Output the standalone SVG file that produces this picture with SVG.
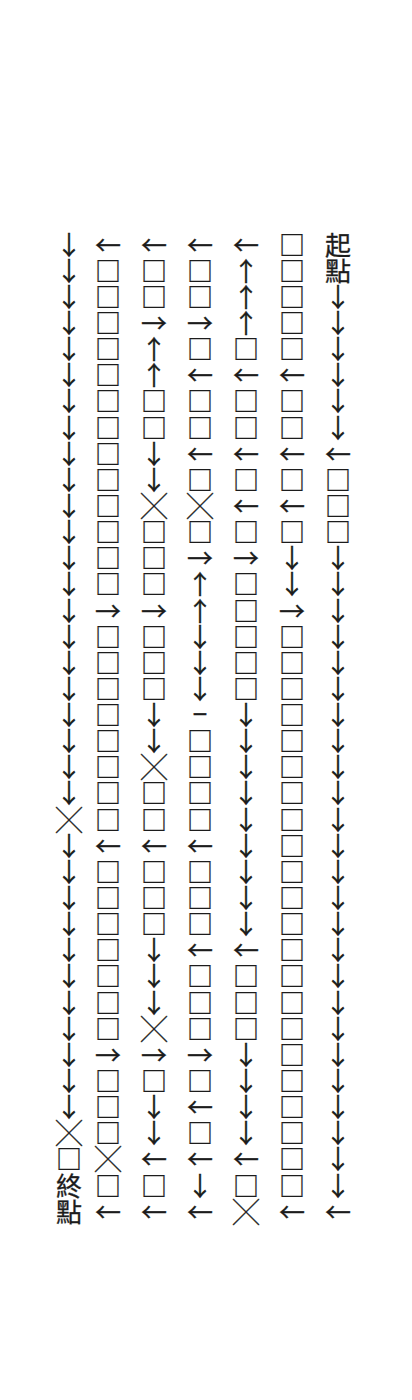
<svg xmlns="http://www.w3.org/2000/svg" width="412" height="1400" viewBox="0 0 412 1400">
<style>
text{font-family:"Noto Sans CJK TC","Noto Sans CJK SC",sans-serif;font-size:26px;fill:#1c1c1c;stroke:#1c1c1c;stroke-width:0.3px;text-anchor:middle;dominant-baseline:central}
</style>
<rect width="412" height="1400" fill="#ffffff"/>
<g id="col1">
<text x="338 338 338 338 338 338 338 338 338 338 338 338 338 338 338 338 338 338 338 338 338 338 338 338 338 338 338 338 338 338 338 338 338 338 338 338 338 338" y="243 269.1 295.3 321.4 347.6 373.7 399.8 426 452.1 478.3 504.4 530.5 556.7 582.8 609 635.1 661.2 687.4 713.5 739.7 765.8 791.9 818.1 844.2 870.4 896.5 922.6 948.8 974.9 1001.1 1027.2 1053.3 1079.5 1105.6 1131.8 1157.9 1184 1210.2">起點↓↓↓↓↓↓←□□□↓↓↓↓↓↓↓↓↓↓↓↓↓↓↓↓↓↓↓↓↓↓↓↓↓←</text>
</g>
<g id="col2">
<text x="292 292 292 292 292 292 292 292 292 292 292 292 292 292 292 292 292 292 292 292 292 292 292 292 292 292 292 292 292 292 292 292 292 292 292 292 292 292" y="243 269.1 295.3 321.4 347.6 373.7 399.8 426 452.1 478.3 504.4 530.5 556.7 582.8 609 635.1 661.2 687.4 713.5 739.7 765.8 791.9 818.1 844.2 870.4 896.5 922.6 948.8 974.9 1001.1 1027.2 1053.3 1079.5 1105.6 1131.8 1157.9 1184 1210.2">□□□□□←□□←□←□↓↓→□□□□□□□□□□□□□□□□□□□□□□←</text>
</g>
<g id="col3">
<text x="246 246 246 246 246 246 246 246 246 246 246 246 246 246 246 246 246 246 246 246 246 246 246 246 246 246 246 246 246 246 246 246 246 246 246 246 246 246" y="243 269.1 295.3 321.4 347.6 373.7 399.8 426 452.1 478.3 504.4 530.5 556.7 582.8 609 635.1 661.2 687.4 713.5 739.7 765.8 791.9 818.1 844.2 870.4 896.5 922.6 948.8 974.9 1001.1 1027.2 1053.3 1079.5 1105.6 1131.8 1157.9 1184 1210.2">←↑↑↑□←□□←□←□→□□□□□↓↓↓↓↓↓↓↓↓←□□□↓↓↓↓←□╳</text>
</g>
<g id="col4">
<text x="200 200 200 200 200 200 200 200 200 200 200 200 200 200 200 200 200 200 200 200 200 200 200 200 200 200 200 200 200 200 200 200 200 200 200 200 200 200" y="243 269.1 295.3 321.4 347.6 373.7 399.8 426 452.1 478.3 504.4 530.5 556.7 582.8 609 635.1 661.2 687.4 712.5 739.7 765.8 791.9 818.1 844.2 870.4 896.5 922.6 948.8 974.9 1001.1 1027.2 1053.3 1079.5 1105.6 1131.8 1157.9 1184 1210.2">←□□→□←□□←□╳□→↑↑↓↓↓−□□□□←□□□←□□□→□←□←↓←</text>
</g>
<g id="col5">
<text x="154 154 154 154 154 154 154 154 154 154 154 154 154 154 154 154 154 154 154 154 154 154 154 154 154 154 154 154 154 154 154 154 154 154 154 154 154 154" y="243 269.1 295.3 321.4 347.6 373.7 399.8 426 452.1 478.3 504.4 530.5 556.7 582.8 609 635.1 661.2 687.4 713.5 739.7 765.8 791.9 818.1 844.2 870.4 896.5 922.6 948.8 974.9 1001.1 1027.2 1053.3 1079.5 1105.6 1131.8 1157.9 1184 1210.2">←□□→↑↑□□↓↓╳□□□→□□□↓↓╳□□←□□□↓↓↓╳→□↓↓←□←</text>
</g>
<g id="col6">
<text x="108 108 108 108 108 108 108 108 108 108 108 108 108 108 108 108 108 108 108 108 108 108 108 108 108 108 108 108 108 108 108 108 108 108 108 108 108 108" y="243 269.1 295.3 321.4 347.6 373.7 399.8 426 452.1 478.3 504.4 530.5 556.7 582.8 609 635.1 661.2 687.4 713.5 739.7 765.8 791.9 818.1 844.2 870.4 896.5 922.6 948.8 974.9 1001.1 1027.2 1053.3 1079.5 1105.6 1131.8 1157.9 1184 1210.2">←□□□□□□□□□□□□□→□□□□□□□□←□□□□□□□→□□□╳□←</text>
</g>
<g id="col7">
<text x="69 69 69 69 69 69 69 69 69 69 69 69 69 69 69 69 69 69 69 69 69 69 69 69 69 69 69 69 69 69 69 69 69 69 69 69 69 69" y="243 269.1 295.3 321.4 347.6 373.7 399.8 426 452.1 478.3 504.4 530.5 556.7 582.8 609 635.1 661.2 687.4 713.5 739.7 765.8 791.9 818.1 844.2 870.4 896.5 922.6 948.8 974.9 1001.1 1027.2 1053.3 1079.5 1105.6 1131.8 1157.9 1184 1210.2">↓↓↓↓↓↓↓↓↓↓↓↓↓↓↓↓↓↓↓↓↓↓╳↓↓↓↓↓↓↓↓↓↓↓╳□終點</text>
</g>
</svg>
